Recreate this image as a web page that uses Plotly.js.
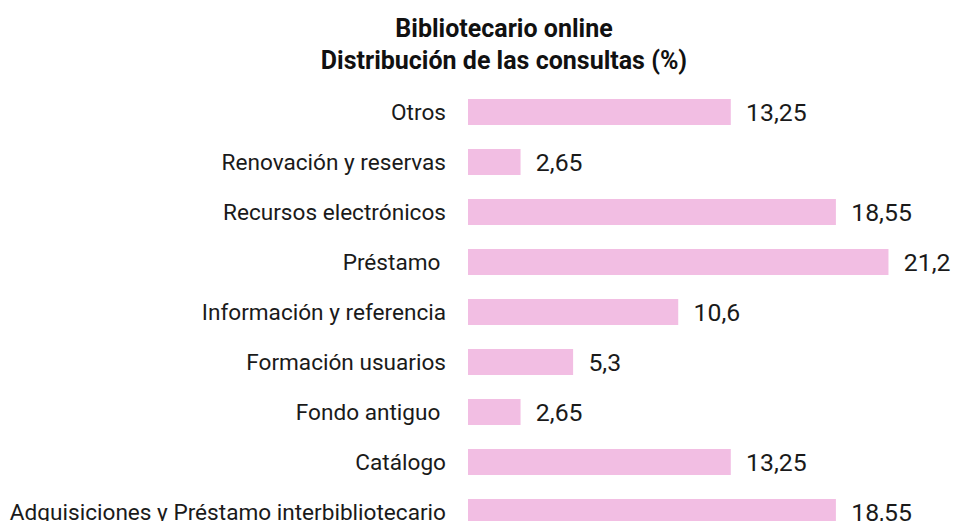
<!DOCTYPE html>
<html>
<head>
<meta charset="utf-8">
<script src="https://cdn.plot.ly/plotly-3.0.1.min.js"></script>
<style>
  html, body { margin: 0; padding: 0; background: #fff; overflow: hidden; }
  #chart { width: 954px; height: 521px; }
</style>
</head>
<body>
<div id="chart"></div>
<script>
// Data (top to bottom as displayed)
const categories = [
  "Otros",
  "Renovación y reservas",
  "Recursos electrónicos",
  "Préstamo\u00A0",
  "Información y referencia",
  "Formación usuarios",
  "Fondo antiguo\u00A0",
  "Catálogo",
  "Adquisiciones y Préstamo interbibliotecario"
];
const values = [13.25, 2.65, 18.55, 21.2, 10.6, 5.3, 2.65, 13.25, 18.55];
const valueLabels = values.map(v => "\u00A0\u00A0" + String(v).replace(".", ","));

const titleLines = ["Bibliotecario online", "Distribución de las consultas (%)"];

const trace = {
  type: "bar",
  orientation: "h",
  y: categories,
  x: values,
  text: valueLabels,
  textposition: "outside",
  constraintext: "none",
  cliponaxis: false,
  textfont: { family: "Roboto, sans-serif", size: 24.8, color: "#1a1a1a" },
  marker: { color: "#F2BEE3", line: { width: 0 } },
  hoverinfo: "skip"
};

const layout = {
  width: 954,
  height: 521,
  margin: { l: 468, r: 10, t: 87, b: 0, pad: 0 },
  paper_bgcolor: "#ffffff",
  plot_bgcolor: "#ffffff",
  separators: ",.",
  bargap: 0.48,
  showlegend: false,
  font: { family: "Roboto, sans-serif", color: "#1a1a1a" },
  title: {
    text: titleLines.join("<br>"),
    font: { family: "Roboto, sans-serif", size: 25, weight: "bold", color: "#111" },
    x: 504 / 954,
    xref: "container",
    xanchor: "center",
    y: 1 - 36.5 / 521,
    yref: "container",
    yanchor: "top"
  },
  xaxis: {
    range: [0, 24],
    showgrid: false,
    zeroline: false,
    showline: false,
    showticklabels: false,
    ticks: "",
    fixedrange: true
  },
  yaxis: {
    type: "category",
    categoryorder: "array",
    categoryarray: categories,
    range: [8.18, -0.5],
    autorange: false,
    showgrid: false,
    zeroline: false,
    showline: false,
    ticks: "",
    ticklabelstandoff: 21,
    tickfont: { family: "Roboto, sans-serif", size: 22.6, color: "#1a1a1a" },
    fixedrange: true
  }
};

Plotly.newPlot("chart", [trace], layout, { displayModeBar: false, staticPlot: true });
</script>
</body>
</html>
